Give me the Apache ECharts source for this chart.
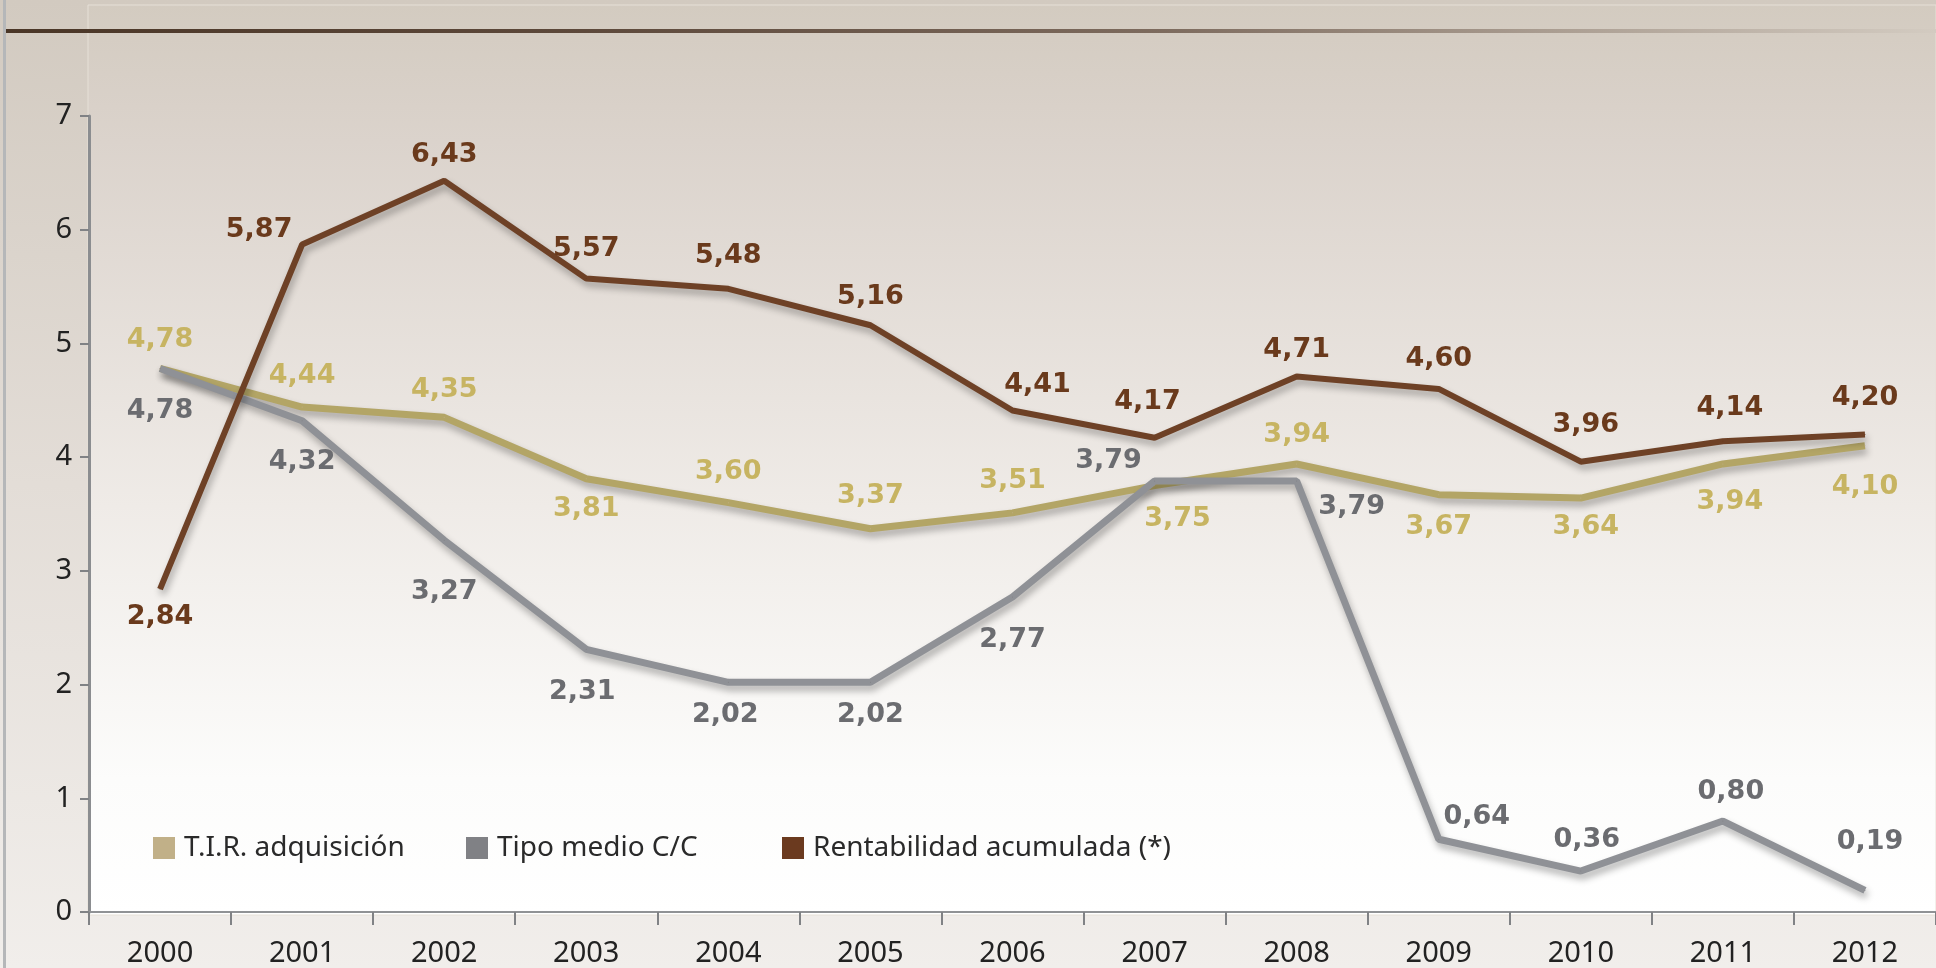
<!DOCTYPE html>
<html>
<head>
<meta charset="utf-8">
<script src="https://cdn.jsdelivr.net/npm/echarts@6/dist/echarts.min.js"></script>
<style>
  html, body { margin: 0; padding: 0; }
  #chart { width: 1936px; height: 968px; }
</style>
</head>
<body>
<div id="chart"></div>
<script>
// years
const years = ['2000', '2001', '2002', '2003', '2004', '2005', '2006', '2007', '2008', '2009', '2010', '2011', '2012']
// T.I.R. adquisicion
const tirAdquisicion = [4.78, 4.44, 4.35, 3.81, 3.60, 3.37, 3.51, 3.75, 3.94, 3.67, 3.64, 3.94, 4.10]
// Tipo medio C/C
const tipoMedio = [4.78, 4.32, 3.27, 2.31, 2.02, 2.02, 2.77, 3.79, 3.79, 0.64, 0.36, 0.80, 0.19]
// Rentabilidad acumulada
const rentabilidad = [2.84, 5.87, 6.43, 5.57, 5.48, 5.16, 4.41, 4.17, 4.71, 4.60, 3.96, 4.14, 4.20]

// where each value label sits relative to its point (px)
const tirLabelOffset = [[0, -28], [0, -31], [0, -27], [0, 30], [0, -31], [0, -33], [0, -32], [23, 33], [0, -29], [0, 32], [5, 29], [7, 38], [0, 41]]
const tipoLabelOffset = [[0, 43], [0, 41], [0, 52], [-4, 43], [-3, 33], [0, 33], [0, 43], [-46, -20], [55, 26], [38, -22], [6, -31], [8, -29], [5, -48]]
const rentLabelOffset = [[0, 28], [-43, -15], [0, -26], [0, -30], [0, -33], [0, -28], [25, -26], [-7, -36], [0, -26], [0, -30], [5, -37], [7, -33], [0, -36]]

const fmt = v => v.toFixed(2).replace('.', ',')

function buildData (values, offsets) {
  return values.map((v, i) => ({ value: v, label: { offset: offsets[i] } }))
}

function lineSeries (name, values, offsets, lineColor, iconColor, labelColor, width, z) {
  return {
    type: 'line',
    name: name,
    z: z,
    symbol: 'circle',
    symbolSize: 1,
    showSymbol: true,
    itemStyle: { color: iconColor },
    lineStyle: {
      color: lineColor,
      width: width,
      shadowColor: 'rgba(0,0,0,0.3)',
      shadowBlur: 7,
      shadowOffsetX: 2,
      shadowOffsetY: 5
    },
    label: {
      show: true,
      position: 'inside',
      formatter: p => fmt(p.value),
      color: labelColor,
      fontFamily: '"DejaVu Sans", sans-serif',
      fontWeight: 'bold',
      fontSize: 27
    },
    emphasis: { disabled: true },
    data: buildData(values, offsets)
  }
}

function legendFor (name, left) {
  return {
    left: left,
    top: 829,
    data: [name],
    itemWidth: 22,
    itemHeight: 22,
    icon: 'rect',
    textStyle: {
      color: '#2a2a2a',
      fontFamily: '"Noto Sans", sans-serif',
      fontSize: 28,
      padding: [0, 0, 0, 4]
    }
  }
}

const chart = echarts.init(document.getElementById('chart'))

const option = {
  animation: false,
  backgroundColor: '#efece8',
  graphic: [
    {
      type: 'rect', z: -20, silent: true,
      shape: { x: 0, y: 0, width: 1936, height: 968 },
      style: {
        fill: {
          type: 'linear', x: 0, y: 0, x2: 0, y2: 1,
          colorStops: [
            { offset: 0, color: '#d2cac0' },
            { offset: 0.5, color: '#e3ddd7' },
            { offset: 1, color: '#f1eeeb' }
          ]
        }
      }
    },
    {
      type: 'rect', z: -19, silent: true,
      shape: { x: 88, y: 5, width: 1848, height: 910 },
      style: {
        fill: {
          type: 'linear', x: 0, y: 0, x2: 0, y2: 1,
          colorStops: [
            { offset: 0, color: '#d3cbc0' },
            { offset: 0.15, color: '#dbd3cc' },
            { offset: 0.55, color: '#efebe7' },
            { offset: 0.85, color: '#fcfcfb' },
            { offset: 1, color: '#ffffff' }
          ]
        },
        stroke: '#e6e0d7',
        lineWidth: 1
      }
    },
    {
      type: 'rect', z: -18, silent: true,
      shape: { x: 6, y: 29, width: 1930, height: 4 },
      style: {
        fill: {
          type: 'linear', x: 0, y: 0, x2: 1, y2: 0,
          colorStops: [
            { offset: 0, color: '#4a3627' },
            { offset: 0.3, color: '#5d493b' },
            { offset: 0.6, color: '#7d6b5e' },
            { offset: 0.8, color: '#aa9d91' },
            { offset: 1, color: '#d3cbc1' }
          ]
        }
      }
    },
    {
      type: 'rect', z: -18, silent: true,
      shape: { x: 3, y: 0, width: 3, height: 968 },
      style: { fill: '#b5b7b9' }
    }
  ],
  legend: [
    legendFor('T.I.R. adquisición', 148),
    legendFor('Tipo medio C/C', 461),
    legendFor('Rentabilidad acumulada (*)', 777)
  ],
  grid: {
    left: 89,
    top: 116,
    width: 1853,
    bottom: 53,
    containLabel: false
  },
  xAxis: {
    type: 'category',
    data: years,
    boundaryGap: true,
    axisLine: { lineStyle: { color: '#909295', width: 2 } },
    axisTick: { show: true, length: 13, lineStyle: { color: '#808285', width: 2 } },
    axisLabel: {
      color: '#222',
      fontFamily: '"Noto Sans", sans-serif',
      fontSize: 29,
      margin: 27
    },
    splitLine: { show: false }
  },
  yAxis: {
    type: 'value',
    min: 0,
    max: 7,
    interval: 1,
    axisLine: { show: true, lineStyle: { color: '#8b8d90', width: 3 } },
    axisTick: { show: true, length: 9, lineStyle: { color: '#808285', width: 2 } },
    axisLabel: {
      color: '#222',
      fontFamily: '"Noto Sans", sans-serif',
      fontSize: 29,
      margin: 17
    },
    splitLine: { show: false }
  },
  series: [
    lineSeries('T.I.R. adquisición', tirAdquisicion, tirLabelOffset, '#b3a566', '#c1b088', '#c7b462', 7, 2),
    lineSeries('Tipo medio C/C', tipoMedio, tipoLabelOffset, '#8f9196', '#808185', '#6b6c70', 7, 3),
    lineSeries('Rentabilidad acumulada (*)', rentabilidad, rentLabelOffset, '#6e4126', '#6b3a1f', '#6a3a1c', 6, 4)
  ]
}

chart.setOption(option)
</script>
</body>
</html>
